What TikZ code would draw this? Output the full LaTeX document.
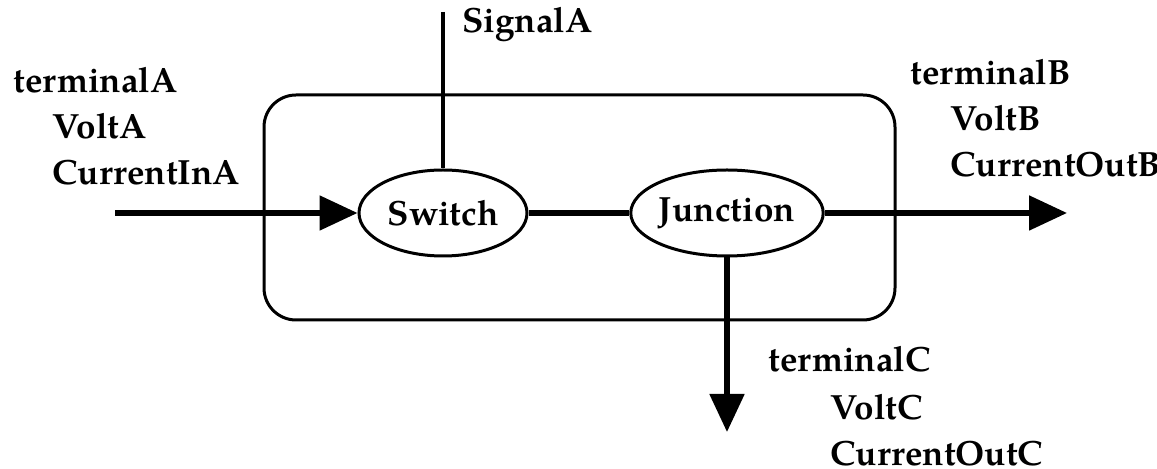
\documentclass[tikz,border=0pt]{standalone}
\usepackage{fontspec}
\setmainfont{texgyrepagella}[Extension=.otf, UprightFont=*-bold, BoldFont=*-bold]
\usetikzlibrary{arrows.meta,shapes.geometric}

\tikzset{
  txt/.style={font=\fontsize{17.5}{21}\selectfont},
  lbl/.style={txt, anchor=base west, inner sep=0pt},
  proc/.style={txt, draw, ellipse, line width=1.5pt, inner sep=0pt, fill=white},
  frame/.style={draw, line width=1.5pt, rounded corners=16pt},
  flow/.style={line width=2.6pt, -{Triangle[length=19pt, width=17pt]}},
  wire/.style={line width=2.6pt},
  sig/.style={line width=2pt}
}

\begin{document}
\begin{tikzpicture}[x=0.5pt, y=-0.5pt]
  \useasboundingbox (0,0) rectangle (1157,469);

  % enclosing component
  \node[frame, minimum width=315.5pt, minimum height=112.5pt] (box) at (579.5,207.5) {};

  % inner processes
  \node[proc, minimum width=84pt, minimum height=43pt] (sw) at (443,213) {Switch};
  \node[proc, minimum width=92pt, minimum height=43pt] (jn) at (727,213) {Junction};

  % free ends of the external ports
  \coordinate (inA) at (115,213);
  \coordinate (sigA) at (443,12);
  \coordinate (outB) at (1067,213);
  \coordinate (outC) at (727,432);

  % connectors
  \draw[flow] (inA) -- (sw.west);
  \draw[wire] (sw.east) -- (jn.west);
  \draw[sig] (sigA) -- (sw.north);
  \draw[flow] (jn.east) -- (outB);
  \draw[flow] (jn.south) -- (outC);

  % port labels
  \node[lbl] (sigAlbl) at (462,33) {SignalA};

  \node[lbl] (tA) at (13,93) {terminalA};
  \node[lbl] (vA) at (52,139) {VoltA};
  \node[lbl] (cA) at (52,185) {CurrentInA};

  \node[lbl] (tB) at (910,85) {terminalB};
  \node[lbl] (vB) at (950,131) {VoltB};
  \node[lbl] (cB) at (950,177) {CurrentOutB};

  \node[lbl] (tC) at (768,372) {terminalC};
  \node[lbl] (vC) at (830,420) {VoltC};
  \node[lbl] (cC) at (830,466) {CurrentOutC};
\end{tikzpicture}
\end{document}
